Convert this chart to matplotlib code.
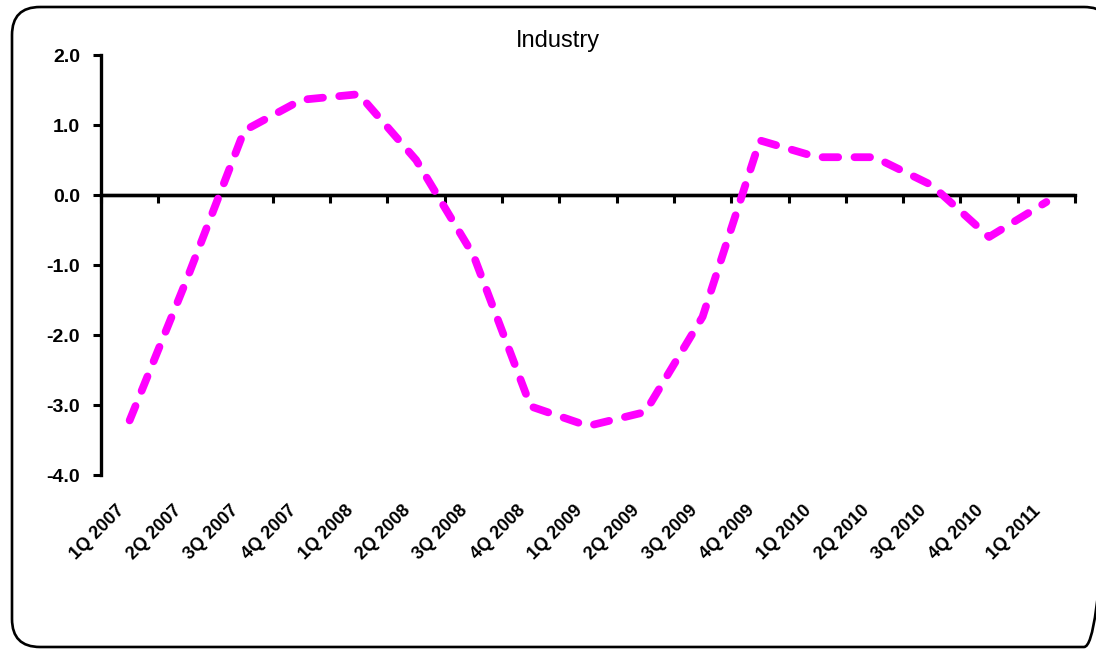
import matplotlib
matplotlib.use("Agg")
import matplotlib.pyplot as plt
from matplotlib.patches import FancyBboxPatch
from matplotlib.transforms import ScaledTranslation
import numpy as np

categories = ["1Q 2007", "2Q 2007", "3Q 2007", "4Q 2007", "1Q 2008", "2Q 2008",
              "3Q 2008", "4Q 2008", "1Q 2009", "2Q 2009", "3Q 2009", "4Q 2009",
              "1Q 2010", "2Q 2010", "3Q 2010", "4Q 2010", "1Q 2011"]
industry = [-3.22, -1.2, 0.92, 1.36, 1.44, 0.5, -0.86, -3.02, -3.3, -3.1, -1.74,
            0.78, 0.54, 0.54, 0.14, -0.6, -0.1]
yticks = [-4.0, -3.0, -2.0, -1.0, 0.0, 1.0, 2.0]
title = "Industry"

plt.rcParams['font.family'] = ['Liberation Sans', 'DejaVu Sans']

fig = plt.figure(figsize=(10.96, 6.49), dpi=100)

# background overlay in pixel coordinates for the rounded frame
bg = fig.add_axes([0, 0, 1, 1])
bg.set_xlim(0, 1096)
bg.set_ylim(649, 0)
bg.axis('off')
border = FancyBboxPatch((12, 7), 1100, 640,
                        boxstyle="round,pad=0,rounding_size=28",
                        fill=False, edgecolor='black', linewidth=1.9, clip_on=False)
bg.add_patch(border)

ax = fig.add_axes([101/1096, 1 - 475/649, (1075-101)/1096, (475-55)/649])
ax.patch.set_alpha(0)
n = len(categories)
x = np.arange(n)
ax.plot(x, industry, color='#FF00FF', linewidth=5.6, linestyle=(0, (2.0, 2.1)),
        dash_capstyle='round', solid_joinstyle='round', dash_joinstyle='round', zorder=3)

ax.set_xlim(-0.5, n - 0.5)
ax.set_ylim(-4, 2)
ax.set_yticks(yticks)
ax.set_yticklabels([f"{v:.1f}" for v in yticks], fontsize=14, fontweight='bold')
ax.tick_params(axis='y', direction='out', length=6, width=2.2, pad=9)

for s in ['top', 'right', 'bottom']:
    ax.spines[s].set_visible(False)
ax.spines['left'].set_linewidth(2.4)

ax.set_xticks(x)
ax.set_xticklabels(categories, rotation=45, ha='right', va='center',
                   rotation_mode='anchor', fontsize=13, fontweight='bold')
ax.tick_params(axis='x', length=0, pad=24)
shift = ScaledTranslation(-8/100, 0, fig.dpi_scale_trans)
for lbl in ax.get_xticklabels():
    lbl.set_transform(lbl.get_transform() + shift)

# zero axis with boundary ticks
ax.axhline(0, color='black', linewidth=2.4, zorder=2)
sec = ax.secondary_xaxis(4/6)
for s in sec.spines.values():
    s.set_linewidth(2.4)
sec.set_xticks(np.arange(n + 1) - 0.5)
sec.set_xticklabels([])
sec.tick_params(axis='x', direction='in', length=6, width=2.2)

fig.text(558/1096, 1 - 41/649, title, ha='center', va='center', fontsize=17)

fig.savefig("out.png", dpi=100)
